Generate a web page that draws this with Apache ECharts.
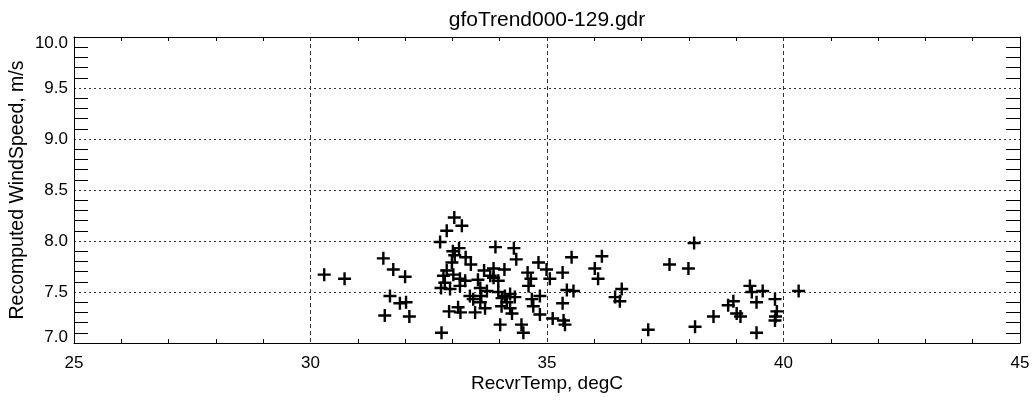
<!DOCTYPE html>
<html>
<head>
<meta charset="utf-8">
<script src="https://cdn.jsdelivr.net/npm/echarts@6/dist/echarts.min.js"></script>
<style>
html,body{margin:0;padding:0;background:#fff;}
#chart{width:1036px;height:402px;}
</style>
</head>
<body>
<div id="chart"></div>
<script>
var titleText = 'gfoTrend000-129.gdr';
var xName = 'RecvrTemp, degC';
var yName = 'Recomputed WindSpeed, m/s';

var recvrTemp = [
  30.29, 30.72, 31.54, 31.75, 32.00, 31.68, 31.89, 32.02, 31.57, 32.09,
  33.04, 33.20, 32.88, 32.74, 33.14, 33.01, 33.05, 33.28, 33.39, 32.99,
  32.88, 32.81, 33.02, 32.84, 33.16, 33.27, 32.76, 32.95, 33.16, 33.54,
  33.67, 33.80, 33.87, 33.91, 33.59, 33.73, 33.37, 33.44, 33.61, 33.59,
  33.69, 32.93, 33.12, 33.17, 33.48, 32.77, 33.87, 33.97, 33.97, 34.05,
  34.11, 34.15, 34.04, 34.22, 34.26, 34.01, 34.46, 34.50, 34.30, 34.35,
  34.10, 34.22, 34.32, 34.59, 34.66, 34.61,
  34.82, 34.99, 35.06, 34.85, 34.68, 34.71, 34.85, 35.12, 35.33, 35.42,
  35.56, 35.33, 35.35, 35.38, 35.52, 36.16, 36.01, 36.08, 36.44, 36.58,
  36.54,
  37.14, 37.59, 38.11, 37.99, 38.13, 38.52, 38.83, 38.94, 39.01, 39.09,
  39.29, 39.33, 39.56, 39.43, 39.43, 39.82, 39.86, 39.83, 39.82, 40.32
];
var windSpeed = [
  7.67, 7.63, 7.83, 7.72, 7.65, 7.46, 7.39, 7.40, 7.27, 7.26,
  8.23, 8.15, 8.10, 7.99, 7.93, 7.90, 7.86, 7.84, 7.77, 7.79,
  7.71, 7.66, 7.67, 7.59, 7.63, 7.61, 7.54, 7.53, 7.56, 7.62,
  7.71, 7.66, 7.73, 7.94, 7.54, 7.51, 7.46, 7.43, 7.46, 7.40,
  7.34, 7.31, 7.35, 7.30, 7.30, 7.10, 7.64, 7.61, 7.50, 7.44,
  7.46, 7.40, 7.36, 7.34, 7.29, 7.18, 7.18, 7.10, 7.93, 7.82,
  7.72, 7.48, 7.45, 7.69, 7.63, 7.56,
  7.79, 7.72, 7.63, 7.46, 7.43, 7.36, 7.28, 7.24, 7.69, 7.52,
  7.51, 7.39, 7.22, 7.18, 7.84, 7.85, 7.73, 7.63, 7.45, 7.53,
  7.41,
  7.13, 7.77, 7.98, 7.73, 7.16, 7.26, 7.37, 7.41, 7.29, 7.26,
  7.56, 7.50, 7.51, 7.40, 7.10, 7.43, 7.31, 7.26, 7.22, 7.51
];

var xMin = 25, xMax = 45, xStep = 5;
var yMin = 7.0, yMax = 10.0, yStep = 0.5;

var points = recvrTemp.map(function (t, i) { return [t, windSpeed[i]]; });

var FONT = '"Liberation Sans", Arial, Helvetica, sans-serif';
var plusPath = 'path://M-1.3,-7H1.3V-1.3H7V1.3H1.3V7H-1.3V1.3H-7V-1.3H-1.3Z';

var chart = echarts.init(document.getElementById('chart'), null, {renderer: 'canvas'});
chart.setOption({
  animation: false,
  backgroundColor: '#ffffff',
  title: {
    text: titleText,
    left: 547,
    textAlign: 'center',
    top: 10,
    padding: 0,
    textStyle: {fontFamily: FONT, fontSize: 21, fontWeight: 'normal', color: '#000'}
  },
  grid: {left: 74, right: 16, top: 37, bottom: 59, containLabel: false, outerBoundsMode: 'none'},
  xAxis: [{
    type: 'value', position: 'bottom', min: xMin, max: xMax, interval: xStep,
    name: xName, nameLocation: 'middle', nameGap: 31, nameMoveOverlap: false,
    nameTextStyle: {fontFamily: FONT, fontSize: 19, color: '#000'},
    axisLine: {show: true, onZero: false, lineStyle: {color: '#000', width: 1}},
    axisTick: {show: false, inside: true},
    minorTick: {show: true, splitNumber: 5, length: 4, lineStyle: {color: '#000', width: 1}},
    axisLabel: {fontFamily: FONT, fontSize: 17, color: '#000', margin: 12},
    splitLine: {show: true, lineStyle: {color: '#333', width: 1, type: [4, 3]}}
  }, {
    type: 'value', position: 'top', min: xMin, max: xMax, interval: xStep,
    axisLine: {show: true, onZero: false, lineStyle: {color: '#000', width: 1}},
    axisTick: {show: false, inside: true},
    minorTick: {show: true, splitNumber: 5, length: 4, lineStyle: {color: '#000', width: 1}},
    axisLabel: {show: false},
    splitLine: {show: false}
  }],
  yAxis: [{
    type: 'value', position: 'left', min: yMin, max: yMax, interval: yStep,
    name: yName, nameLocation: 'middle', nameGap: 46, nameRotate: 90, nameMoveOverlap: false,
    nameTextStyle: {fontFamily: FONT, fontSize: 19.5, color: '#000'},
    axisLine: {show: true, onZero: false, lineStyle: {color: '#000', width: 1}},
    axisTick: {show: false, inside: true},
    minorTick: {show: true, splitNumber: 5, length: 14, lineStyle: {color: '#000', width: 1}},
    axisLabel: {
      fontFamily: FONT, fontSize: 17, color: '#000', margin: 6, lineHeight: 12,
      formatter: function (v) { return v.toFixed(1); },
      verticalAlignMinLabel: 'bottom', verticalAlignMaxLabel: 'top'
    },
    splitLine: {show: true, lineStyle: {color: '#333', width: 1, type: [2, 3]}}
  }, {
    type: 'value', position: 'right', min: yMin, max: yMax, interval: yStep,
    axisLine: {show: true, onZero: false, lineStyle: {color: '#000', width: 1}},
    axisTick: {show: false, inside: true},
    minorTick: {show: true, splitNumber: 5, length: 14, lineStyle: {color: '#000', width: 1}},
    axisLabel: {show: false},
    splitLine: {show: false}
  }],
  series: [{
    type: 'scatter',
    xAxisIndex: 0, yAxisIndex: 0,
    symbol: plusPath,
    symbolSize: 13,
    itemStyle: {color: '#000', opacity: 1},
    data: points
  }]
});
</script>
</body>
</html>
